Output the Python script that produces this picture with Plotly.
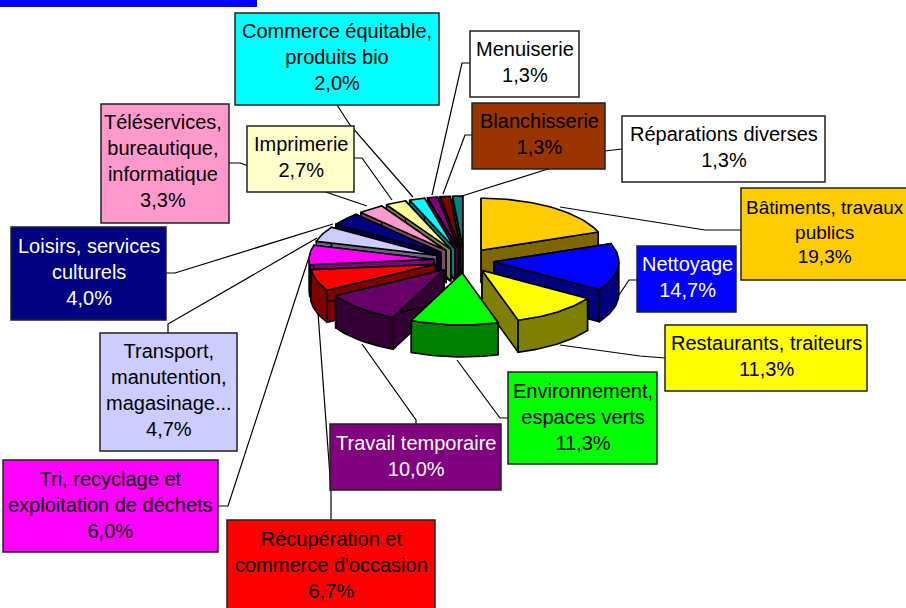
import math
import plotly.graph_objects as go

# ---- data -------------------------------------------------------------
categories = ["Bâtiments, travaux<br>publics", "Nettoyage", "Restaurants, traiteurs",
              "Environnement,<br>espaces verts", "Travail temporaire",
              "Récupération et<br>commerce d'occasion",
              "Tri, recyclage et<br>exploitation de déchets",
              "Transport,<br>manutention,<br>magasinage...", "Loisirs, services<br>culturels",
              "Téléservices,<br>bureautique,<br>informatique", "Imprimerie",
              "Commerce équitable,<br>produits bio", "Menuiserie", "Blanchisserie",
              "Réparations diverses"]
shares = [19.3, 14.7, 11.3, 11.3, 10.0, 6.7, 6.0, 4.7, 4.0, 3.3, 2.7, 2.0, 1.3, 1.3, 1.3]

# ---- styles -----------------------------------------------------------
top_colors = ["#FFCC00", "#0000FF", "#FFFF00", "#00FF00", "#660066", "#FF0000", "#FF00FF",
              "#CCCCFF", "#000080", "#FF99CC", "#FFFF99", "#00FFFF", "#800080", "#800000", "#008080"]
box_colors = ["#FFCC00", "#0000FF", "#FFFF00", "#00FF00", "#800080", "#FF0000", "#FF00FF",
              "#CCCCFF", "#000080", "#FF99CC", "#FFFFCC", "#00FFFF", "#FFFFFF", "#993300", "#FFFFFF"]
text_colors = ["black", "white", "black", "black", "white", "black", "black",
               "black", "white", "black", "black", "black", "black", "black", "black"]
text_sizes = [19] + [20] * 14
boxes = [(741, 188, 912, 280), (637, 246, 736, 312), (665, 325, 867, 391), (508, 372, 657, 464),
         (330, 424, 501, 490), (227, 520, 435, 612), (3, 460, 218, 552), (100, 333, 237, 451),
         (11, 227, 166, 320), (101, 104, 229, 223), (247, 126, 354, 192), (235, 13, 439, 105),
         (470, 31, 579, 97), (472, 103, 605, 169), (622, 116, 825, 182)]
text_centres = [(825, 232), (687, 277), (766, 356), (583, 417), (416, 456), (331, 565), (110, 505),
                (169, 390), (89, 272), (163, 161), (301, 157), (337, 57), (525, 62), (539, 134), (724, 147)]
leaders = [[(741, 230), (705, 230), (560, 207)], [(637, 280), (629, 280), (617, 298)],
           [(665, 358), (640, 356), (560, 345)], [(508, 418), (500, 418), (457, 360)],
           [(416, 424), (416, 420), (362, 344)], [(331, 520), (331, 490), (318, 313)],
           [(218, 506), (228, 506), (309, 257)], [(168, 333), (168, 324), (317, 238)],
           [(166, 273), (175, 273), (333, 224)], [(229, 163), (240, 163), (367, 206)],
           [(354, 158), (362, 158), (392, 200)], [(337, 105), (350, 125), (413, 197)],
           [(470, 63), (462, 63), (432, 195)], [(472, 135), (465, 135), (443, 194)],
           [(622, 149), (605, 151), (462, 196)]]
CX, CY, RX, RY, DEPTH, PULL = 464, 260.5, 125, 52, 32, 0.24


def darken(col):
    r, g, b = (int(col[i:i + 2], 16) for i in (1, 3, 5))
    return f"#{r // 2:02X}{g // 2:02X}{b // 2:02X}"


total = sum(shares)
spans, acc = [], 0.0
for s in shares:
    spans.append((acc / total * 2 * math.pi, (acc + s) / total * 2 * math.pi))
    acc += s

fig = go.Figure()


def poly(xs, ys, fill, name):
    fig.add_trace(go.Scatter(x=xs, y=ys, mode="lines", fill="toself", fillcolor=fill,
                             line=dict(color="black", width=1.6), hoverinfo="skip",
                             name=name, showlegend=False))


# painter's order: back-left slices first, then right side, front last
order = list(range(14, 3, -1)) + [0, 1, 2, 3]
for i in order:
    a0, a1 = spans[i]
    am = (a0 + a1) / 2
    ax = CX + PULL * RX * math.sin(am)
    ay = CY - PULL * RY * math.cos(am)
    pt = lambda t: (ax + RX * math.sin(t), ay - RY * math.cos(t))
    n = max(int((a1 - a0) * 40), 2)
    ts = [a0 + (a1 - a0) * k / n for k in range(n + 1)]
    arc = [pt(t) for t in ts]
    side = darken(top_colors[i])
    nm = categories[i].replace("<br>", " ")
    # cut faces
    for e in (arc[0], arc[-1]):
        poly([ax, e[0], e[0], ax, ax], [ay, e[1], e[1] + DEPTH, ay + DEPTH, ay], side, nm)
    # outer wall (front half only)
    w0, w1 = max(a0, math.pi / 2), min(a1, 1.5 * math.pi)
    if w1 > w0:
        wn = max(int((w1 - w0) * 40), 2)
        wall = [pt(w0 + (w1 - w0) * k / wn) for k in range(wn + 1)]
        xs = [p[0] for p in wall] + [p[0] for p in reversed(wall)]
        ys = [p[1] for p in wall] + [p[1] + DEPTH for p in reversed(wall)]
        poly(xs + xs[:1], ys + ys[:1], side, nm)
    # top face
    poly([ax] + [p[0] for p in arc] + [ax], [ay] + [p[1] for p in arc] + [ay], top_colors[i], nm)

shapes = [dict(type="rect", x0=0, y0=-2, x1=257, y1=7, fillcolor="#0000FF", line=dict(width=0), layer="below")]
for pts in leaders:
    path = "M" + " L".join(f"{x},{y}" for x, y in pts)
    shapes.append(dict(type="path", path=path, line=dict(color="black", width=1.2), layer="below"))
annotations = []
for cat, s, b, fc, tc, c, sz in zip(categories, shares, boxes, box_colors, text_colors, text_centres, text_sizes):
    shapes.append(dict(type="rect", x0=b[0], y0=b[1], x1=b[2], y1=b[3], fillcolor=fc,
                       line=dict(color="#222222", width=1.5), layer="below"))
    pct = f"{s:.1f}%".replace(".", ",")
    annotations.append(dict(x=c[0], y=c[1], xref="x", yref="y", text=f"{cat}<br>{pct}", showarrow=False,
                            align="center", xanchor="center", yanchor="middle",
                            font=dict(family="Liberation Sans, Arial, sans-serif", size=sz, color=tc)))

fig.update_layout(width=906, height=608, margin=dict(l=0, r=0, t=0, b=0),
                  paper_bgcolor="white", plot_bgcolor="white", showlegend=False,
                  xaxis=dict(range=[0, 906], visible=False, fixedrange=True),
                  yaxis=dict(range=[608, 0], visible=False, fixedrange=True),
                  shapes=shapes, annotations=annotations)
fig.write_html("out.html", config={"displayModeBar": False},
               post_script="document.documentElement.style.margin='0';document.body.style.margin='0';document.body.style.overflow='hidden';")
